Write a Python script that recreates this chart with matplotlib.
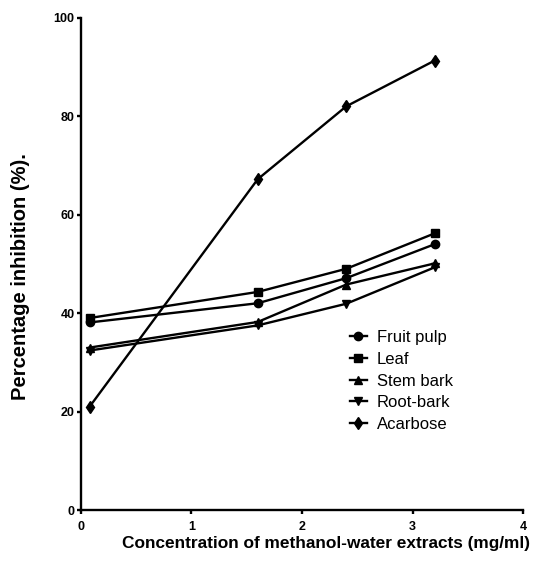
import matplotlib
matplotlib.use("Agg")
import matplotlib.pyplot as plt

# Данные
conc = [0.08, 1.6, 2.4, 3.2]
series_names = ["Fruit pulp", "Leaf", "Stem bark", "Root-bark", "Acarbose"]
fruit_pulp = [38.1, 42.0, 47.1, 54.0]
leaf = [39.0, 44.3, 49.0, 56.2]
stem_bark = [33.0, 38.2, 45.8, 50.1]
root_bark = [32.4, 37.5, 41.9, 49.3]
acarbose = [21.0, 67.2, 82.0, 91.3]
x_ticks = [0, 1, 2, 3, 4]
y_ticks = [0, 20, 40, 60, 80, 100]

plt.rcParams['font.family'] = ['Liberation Sans', 'DejaVu Sans']

fig = plt.figure(figsize=(5.35, 5.62), dpi=100)
ax = fig.add_axes([0.151, 0.0925, 0.827, 0.876])

markers = ['o', 's', '^', 'v', 'd']
values = [fruit_pulp, leaf, stem_bark, root_bark, acarbose]
for name, vals, m in zip(series_names, values, markers):
    ms = 6.5 if m == 'd' else 6
    ax.plot(conc, vals, color='black', linewidth=1.7, marker=m,
            markersize=ms, label=name)

ax.set_xlim(0, 4)
ax.set_ylim(0, 100)
ax.set_xticks(x_ticks)
ax.set_yticks(y_ticks)
ax.spines['top'].set_visible(False)
ax.spines['right'].set_visible(False)
for s in ('left', 'bottom'):
    ax.spines[s].set_linewidth(1.7)
ax.tick_params(width=1.7, length=3, labelsize=9, pad=1.5)
ax.tick_params(axis='x', pad=5)
for lab in ax.get_xticklabels() + ax.get_yticklabels():
    lab.set_fontweight('bold')

ax.set_xlabel('Concentration of methanol-water extracts (mg/ml)',
              fontsize=12.4, fontweight='bold')
ax.xaxis.set_label_coords(0.554, -0.052)
ax.set_ylabel('Percentage inhibition (%).', fontsize=14.5,
              fontweight='bold')
ax.yaxis.set_label_coords(-0.115, 0.475)

ax.legend(loc='upper left', bbox_to_anchor=(0.59, 0.382), frameon=False,
          fontsize=12, handlelength=1.0, handletextpad=0.6,
          labelspacing=0.4, borderpad=0)

fig.savefig('out.png', dpi=100)
